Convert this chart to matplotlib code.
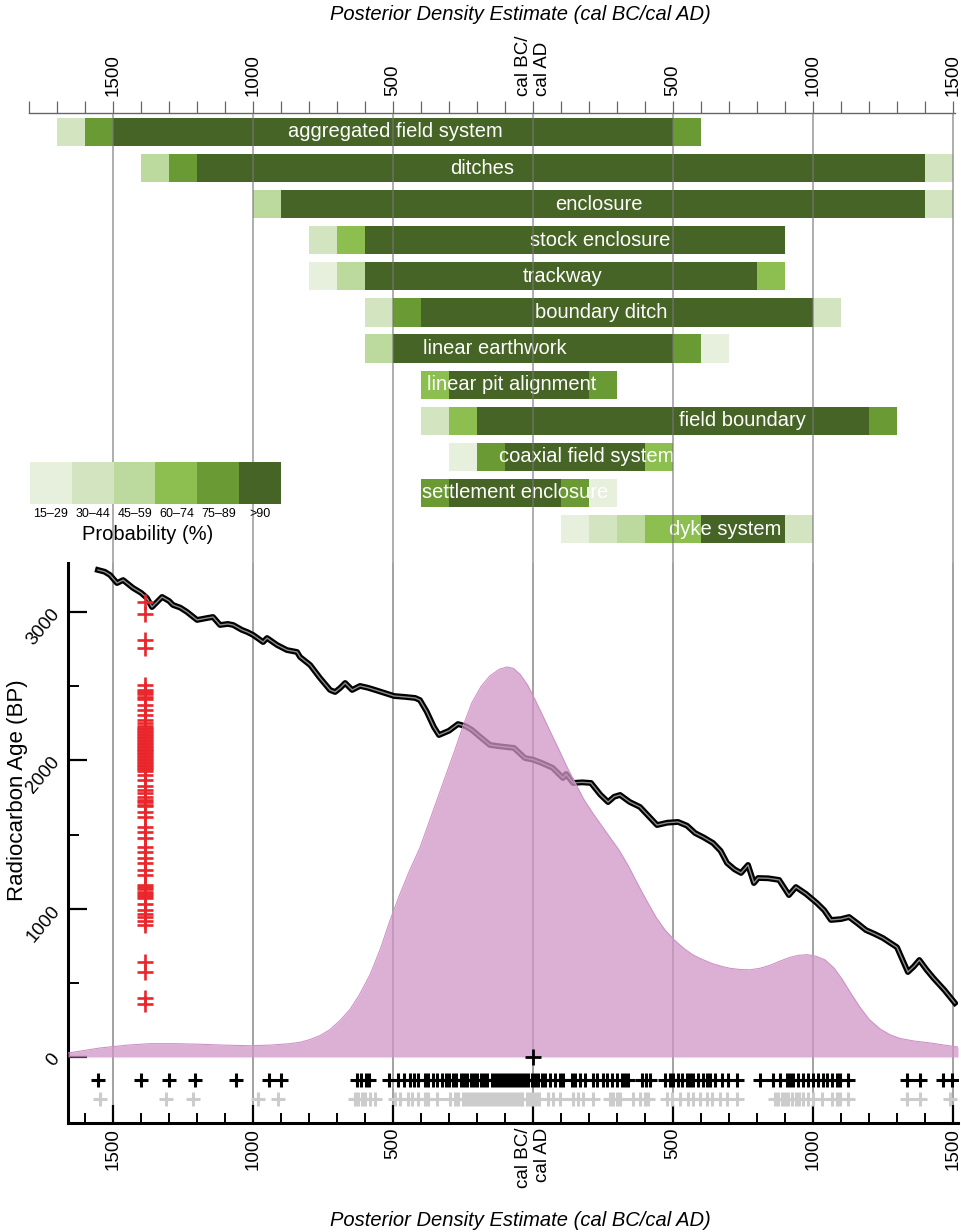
import numpy as np
import matplotlib.pyplot as plt
from matplotlib.ticker import MultipleLocator, FixedLocator

plt.rcParams['font.family'] = ['Liberation Sans', 'DejaVu Sans']

# ---- feature bars (posterior density, 100-year blocks) ----
features = ["aggregated field system", "ditches", "enclosure", "stock enclosure",
            "trackway", "boundary ditch", "linear earthwork", "linear pit alignment",
            "field boundary", "coaxial field system", "settlement enclosure", "dyke system"]
feature_edges = [
    [-1700, -1600, -1500, 500, 600],
    [-1400, -1300, -1200, 1400, 1500],
    [-1000, -900, 1400, 1500],
    [-800, -700, -600, 900],
    [-800, -700, -600, 800, 900],
    [-600, -500, -400, 1000, 1100],
    [-600, -500, 500, 600, 700],
    [-400, -300, 200, 300],
    [-400, -300, -200, 1200, 1300],
    [-300, -200, -100, 400, 500],
    [-400, -300, 100, 200, 300],
    [100, 200, 300, 400, 600, 900, 1000],
]
# index into prob_labels for each block
feature_classes = [
    [1, 4, 5, 4],
    [2, 4, 5, 1],
    [2, 5, 1],
    [1, 3, 5],
    [0, 2, 5, 3],
    [1, 4, 5, 1],
    [2, 5, 4, 0],
    [3, 5, 4],
    [1, 3, 5, 4],
    [0, 4, 5, 3],
    [4, 5, 4, 0],
    [0, 1, 2, 3, 5, 1],
]
label_year = [-490, -180, 236, 240, 107, 243, -135, -75, 747, 190, -64, 686]

prob_labels = ["15\u201329", "30\u201344", "45\u201359", "60\u201374", "75\u201389", ">90"]
prob_colors = ["#e6f0dc", "#d3e5c0", "#bcd99e", "#8cbf50", "#6a9a33", "#466425"]

# ---- calibration curve (cal year, BP) ----
curve_year = [-1554, -1530, -1511, -1486, -1464, -1429, -1400, -1379, -1361, -1325,
              -1300, -1286, -1260, -1236, -1200, -1164, -1143, -1118, -1090, -1071,
              -1040, -1021, -1000, -964, -950, -914, -879, -843, -832, -796,
              -761, -725, -707, -689, -671, -646, -618, -590, -564, -529,
              -496, -457, -421, -404, -380, -354, -336, -300, -268, -240,
              -218, -190, -154, -120, -95, -68, -29, 0, 32, 70,
              107, 118, 143, 175, 207, 240, 268, 290, 311, 345,
              382, 415, 443, 480, 518, 550, 579, 610, 643, 670,
              693, 720, 743, 768, 789, 804, 840, 879, 914, 939,
              975, 1014, 1040, 1064, 1100, 1129, 1160, 1189, 1220, 1250,
              1300, 1339, 1360, 1380, 1405, 1430, 1470, 1507]
curve_bp = [3284, 3272, 3250, 3196, 3216, 3163, 3130, 3095, 3034, 3102,
            3075, 3048, 3030, 3001, 2947, 2960, 2967, 2913, 2920, 2913,
            2880, 2866, 2846, 2798, 2825, 2778, 2744, 2731, 2697, 2643,
            2556, 2475, 2461, 2488, 2522, 2475, 2502, 2490, 2475, 2454,
            2434, 2428, 2421, 2407, 2330, 2225, 2171, 2200, 2245, 2230,
            2205, 2160, 2104, 2095, 2090, 2084, 2016, 2005, 1982, 1950,
            1881, 1908, 1848, 1852, 1848, 1770, 1719, 1755, 1767, 1720,
            1686, 1620, 1564, 1580, 1585, 1560, 1510, 1480, 1443, 1390,
            1308, 1265, 1241, 1295, 1173, 1207, 1205, 1194, 1092, 1146,
            1100, 1038, 990, 924, 930, 944, 900, 856, 830, 802,
            740, 573, 610, 654, 590, 533, 450, 364]

# ---- summed posterior density (plotted height in BP units) ----
density_year = [-1661, -1600, -1546, -1450, -1368, -1280, -1189, -1100, -1011, -940,
                -868, -830, -796, -760, -725, -690, -654, -620, -582, -545,
                -511, -475, -439, -404, -370, -332, -300, -279, -250, -218,
                -185, -154, -120, -93, -70, -46, -20, 7, 35, 65,
                93, 120, 150, 182, 215, 245, 275, 307, 340, 370,
                404, 440, 470, 504, 540, 570, 596, 640, 680, 704,
                740, 775, 810, 846, 880, 918, 950, 979, 1010, 1043,
                1075, 1104, 1135, 1168, 1200, 1239, 1275, 1311, 1360, 1418,
                1470, 1518]
density_height = [27, 45, 61, 80, 90, 90, 86, 80, 76, 80,
                  90, 100, 118, 145, 185, 245, 320, 420, 555, 730,
                  920, 1100, 1265, 1410, 1590, 1790, 1960, 2070, 2230, 2390,
                  2500, 2570, 2615, 2630, 2620, 2580, 2510, 2410, 2300, 2180,
                  2070, 1960, 1850, 1735, 1640, 1560, 1480, 1396, 1290, 1180,
                  1060, 940, 860, 790, 730, 690, 665, 630, 608, 598,
                  590, 588, 598, 618, 645, 672, 686, 690, 680, 655,
                  600, 525, 430, 335, 255, 190, 150, 125, 108, 95,
                  80, 67]

# ---- radiocarbon ages (BP) ----
lab_bp = [3065, 2985, 2815, 2760,
          2510, 2478, 2460, 2445, 2430, 2415, 2375, 2340, 2305, 2275, 2250, 2230,
          2220, 2210, 2200, 2190, 2180, 2170, 2160, 2150, 2140, 2130, 2120, 2110,
          2100, 2090, 2080, 2070, 2060, 2050, 2040, 2030, 2020, 2010, 2000, 1990,
          1980, 1970, 1960, 1950, 1940, 1930,
          1900, 1870, 1825, 1800, 1780, 1750, 1735, 1720, 1700, 1690, 1650, 1620,
          1550, 1515, 1475, 1415, 1380, 1345, 1305, 1260, 1225,
          1160, 1145, 1130, 1115, 1100, 1085, 1070, 1035, 990, 965, 945, 920, 890,
          640, 575, 400, 355]
lab_x = -1385

# ---- posterior medians (cal year) ----
median_year = [-1554, -1400, -1300, -1207, -1061, -943, -900,
               -629, -614, -596, -586, -514,
               -482, -461, -439, -425, -411, -386, -375, -357, -343,
               -325, -311, -300, -286, -275, -257, -246, -236, -221, -211, -200, -186, -175, -164,
               -146, -136, -125, -114, -104, -93, -82, -71, -61, -50, -39,
               -29, -18, -4, 7, 18, 32, 43, 61, 79, 96, 107,
               139, 150, 168, 186, 214, 229, 250, 264, 282, 300, 318, 329, 339,
               389, 404, 418, 471, 489, 500,
               518, 532, 550, 561, 571, 589, 607, 621, 632, 650, 675, 696, 729,
               811, 857, 882, 907, 918, 929, 946, 964, 982, 1000, 1018, 1036, 1050,
               1068, 1086, 1096, 1125, 1336, 1382, 1464, 1496]
prior_year = [-1546, -1311, -1214, -982, -911,
              -636, -625, -611, -600, -582, -564,
              -493, -475, -446, -432, -411, -386, -375, -343, -296, -279, -268,
              -250, -239, -229, -218, -207, -196, -186, -175, -164,
              -154, -143, -132, -121, -111, -100, -89, -79, -68, -57, -46, -39,
              -21, -11, 0, 11, 21, 54, 71, 96, 143, 161, 179, 214,
              275, 286, 300, 311, 357, 382, 400, 411, 479, 496,
              525, 554, 571, 596, 621, 639, 668, 693, 729,
              864, 875, 889, 900, 911, 925, 939, 950, 964, 982, 1000,
              1032, 1068, 1086, 1096, 1125, 1336, 1382, 1489]

W, H = 961, 1232


def box(left, top, right, bottom):
    return [left / W, 1 - bottom / H, (right - left) / W, (bottom - top) / H]


fig = plt.figure(figsize=(W / 100, H / 100), dpi=100)
ticks = [-1500, -1000, -500, 0, 500, 1000, 1500]
tick_text = ["1500", "1000", "500", "cal BC/\ncal AD", "500", "1000", "1500"]

# ---------------- top panel ----------------
top = fig.add_axes(box(29, 113, 955, 563))
top.set_xlim(-1800, 1507)
top.set_ylim(11.94, -0.526)
for s in ["left", "right", "bottom"]:
    top.spines[s].set_visible(False)
top.spines["top"].set_color("#666666")
top.spines["top"].set_linewidth(1)
top.set_yticks([])
top.set_xticks(ticks, tick_text, rotation=90, fontsize=13.5, multialignment="left")
top.xaxis.set_minor_locator(MultipleLocator(100))
top.tick_params(axis="x", which="both", top=True, bottom=False, labeltop=True,
                labelbottom=False, direction="out", length=9, width=0.9,
                color="#666666", pad=3)

for i, (edges, cls) in enumerate(zip(feature_edges, feature_classes)):
    for a, b, c in zip(edges[:-1], edges[1:], cls):
        top.barh(i, b - a, left=a, height=0.78, color=prob_colors[c], lw=0, zorder=2)
    top.text(label_year[i], i, features[i], color="white", ha="center", va="center",
             fontsize=14.5, zorder=4)

for v in ticks:
    top.axvline(v, color="#777777", lw=1.1, alpha=0.75, zorder=5)

# legend
leg = fig.add_axes(box(30, 462, 281, 504))
leg.bar(range(6), 1, width=1, color=prob_colors, lw=0)
leg.set_xlim(-0.5, 5.5)
leg.set_ylim(0, 1)
leg.set_yticks([])
leg.set_xticks(range(6), prob_labels, fontsize=9)
leg.tick_params(axis="x", length=0, pad=3)
for s in leg.spines.values():
    s.set_visible(False)
fig.text(148 / W, 1 - 535 / H, "Probability (%)", fontsize=14.5, ha="center", va="center")

# ---------------- lower panel ----------------
low = fig.add_axes(box(68, 563, 958, 1123))
low.set_xlim(-1661, 1518)
low.set_ylim(-445, 3331)
low.spines["top"].set_visible(False)
low.spines["right"].set_visible(False)
low.spines["left"].set_linewidth(2.2)
low.spines["bottom"].set_linewidth(2.2)

for v in ticks:
    low.axvline(v, color="#888888", lw=1.1, zorder=1)

low.plot(curve_year, curve_bp, color="black", lw=4.2, zorder=2, solid_joinstyle="round")
low.plot(curve_year, curve_bp, color="#8c8c8c", lw=1.0, zorder=2.1)

low.fill_between(density_year, 0, density_height, color="#d196c7", alpha=0.75,
                 lw=0, zorder=3)
low.plot(density_year, density_height, color="#cf92c5", lw=0.8, zorder=3.1)

low.plot([lab_x] * len(lab_bp), lab_bp, "+", color="#e8262b", ms=11, mew=1.9, zorder=5)
low.plot(median_year, [-155] * len(median_year), "+", color="black", ms=10, mew=2.2, zorder=5)
low.plot(prior_year, [-283] * len(prior_year), "+", color="#cccccc", ms=10, mew=2.2, zorder=4)
low.plot([0], [0], "+", color="black", ms=12, mew=2, zorder=5)

low.set_xticks(ticks, tick_text, rotation=90, fontsize=13.5, multialignment="right")
low.xaxis.set_minor_locator(MultipleLocator(100))
low.tick_params(axis="x", which="major", direction="in", length=13, width=1.6)
low.tick_params(axis="x", which="minor", direction="in", length=7, width=1.4)

low.yaxis.set_major_locator(FixedLocator([0, 1000, 2000, 3000]))
low.yaxis.set_minor_locator(FixedLocator([500, 1500, 2500]))
low.set_yticklabels(["0", "1000", "2000", "3000"], rotation=50, fontsize=13.5)
low.tick_params(axis="y", which="major", direction="in", length=14, width=1.6)
low.tick_params(axis="y", which="minor", direction="in", length=8, width=1.4)

fig.text(18 / W, 1 - 790 / H, "Radiocarbon Age (BP)", rotation=90, fontsize=16,
         ha="center", va="center")

narrow = ["Liberation Sans Narrow", "Liberation Sans", "DejaVu Sans"]
fig.text(520 / W, 1 - 15 / H, "Posterior Density Estimate (cal BC/cal AD)",
         style="italic", fontsize=14.5, family=narrow, ha="center", va="center")
fig.text(520 / W, 1 - 1220 / H, "Posterior Density Estimate (cal BC/cal AD)",
         style="italic", fontsize=14.5, family=narrow, ha="center", va="center")

fig.savefig("out.png", dpi=100)
